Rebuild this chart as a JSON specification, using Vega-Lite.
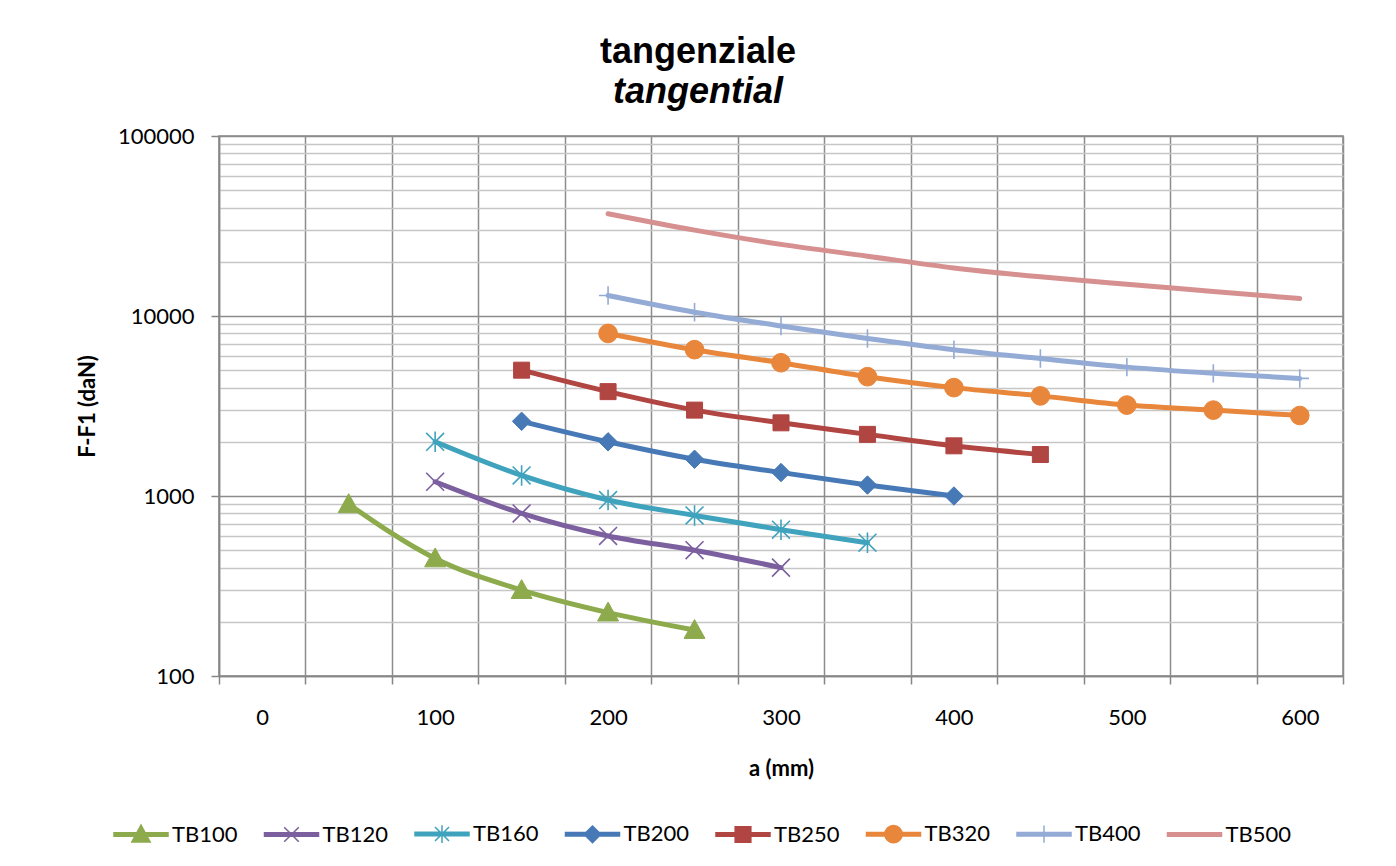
{
  "$schema": "https://vega.github.io/schema/vega-lite/v6.json",
  "width": 1124,
  "height": 540,
  "autosize": "none",
  "padding": {"left": 219, "top": 136, "right": 53, "bottom": 190},
  "background": "white",
  "title": {
    "text": "tangenziale",
    "subtitle": "tangential",
    "font": "Liberation Sans",
    "fontSize": 36,
    "fontWeight": "bold",
    "color": "#000000",
    "subtitleFont": "Liberation Sans",
    "subtitleFontSize": 36,
    "subtitleFontWeight": "bold",
    "subtitleFontStyle": "italic",
    "subtitleColor": "#000000",
    "subtitlePadding": 4,
    "anchor": "middle",
    "frame": "group",
    "dx": -83,
    "offset": 14
  },
  "data": {
    "values": [
      {"series": "TB100", "a": 50, "F": 900},
      {"series": "TB100", "a": 100, "F": 450},
      {"series": "TB100", "a": 150, "F": 300},
      {"series": "TB100", "a": 200, "F": 225},
      {"series": "TB100", "a": 250, "F": 180},
      {"series": "TB120", "a": 100, "F": 1200},
      {"series": "TB120", "a": 150, "F": 800},
      {"series": "TB120", "a": 200, "F": 600},
      {"series": "TB120", "a": 250, "F": 500},
      {"series": "TB120", "a": 300, "F": 400},
      {"series": "TB160", "a": 100, "F": 2000},
      {"series": "TB160", "a": 150, "F": 1300},
      {"series": "TB160", "a": 200, "F": 950},
      {"series": "TB160", "a": 250, "F": 780},
      {"series": "TB160", "a": 300, "F": 650},
      {"series": "TB160", "a": 350, "F": 550},
      {"series": "TB200", "a": 150, "F": 2600},
      {"series": "TB200", "a": 200, "F": 2000},
      {"series": "TB200", "a": 250, "F": 1600},
      {"series": "TB200", "a": 300, "F": 1350},
      {"series": "TB200", "a": 350, "F": 1150},
      {"series": "TB200", "a": 400, "F": 1000},
      {"series": "TB250", "a": 150, "F": 5000},
      {"series": "TB250", "a": 200, "F": 3800},
      {"series": "TB250", "a": 250, "F": 3000},
      {"series": "TB250", "a": 300, "F": 2550},
      {"series": "TB250", "a": 350, "F": 2200},
      {"series": "TB250", "a": 400, "F": 1900},
      {"series": "TB250", "a": 450, "F": 1700},
      {"series": "TB320", "a": 200, "F": 8000},
      {"series": "TB320", "a": 250, "F": 6500},
      {"series": "TB320", "a": 300, "F": 5500},
      {"series": "TB320", "a": 350, "F": 4600},
      {"series": "TB320", "a": 400, "F": 4000},
      {"series": "TB320", "a": 450, "F": 3600},
      {"series": "TB320", "a": 500, "F": 3200},
      {"series": "TB320", "a": 550, "F": 3000},
      {"series": "TB320", "a": 600, "F": 2800},
      {"series": "TB400", "a": 200, "F": 13000},
      {"series": "TB400", "a": 250, "F": 10500},
      {"series": "TB400", "a": 300, "F": 8800},
      {"series": "TB400", "a": 350, "F": 7500},
      {"series": "TB400", "a": 400, "F": 6500},
      {"series": "TB400", "a": 450, "F": 5800},
      {"series": "TB400", "a": 500, "F": 5200},
      {"series": "TB400", "a": 550, "F": 4800},
      {"series": "TB400", "a": 600, "F": 4500},
      {"series": "TB500", "a": 200, "F": 37000},
      {"series": "TB500", "a": 250, "F": 30000},
      {"series": "TB500", "a": 300, "F": 25000},
      {"series": "TB500", "a": 350, "F": 21500},
      {"series": "TB500", "a": 400, "F": 18500},
      {"series": "TB500", "a": 450, "F": 16500},
      {"series": "TB500", "a": 500, "F": 15000},
      {"series": "TB500", "a": 550, "F": 13700},
      {"series": "TB500", "a": 600, "F": 12500}
    ]
  },
  "layer": [
    {
      "mark": {"type": "point", "opacity": 0, "filled": true},
      "encoding": {
        "x": {
          "field": "a", "type": "quantitative",
          "scale": {"domain": [-25, 625], "nice": false, "zero": false},
          "axis": {
            "orient": "bottom",
            "values": [-25, 25, 75, 125, 175, 225, 275, 325, 375, 425, 475, 525, 575, 625],
            "labels": false, "ticks": true, "tickSize": 8, "tickColor": "#868686", "tickWidth": 1.5,
            "domain": true, "domainColor": "#868686", "domainWidth": 1.5,
            "grid": true, "gridColor": "#8c8c8c", "gridWidth": 1.5, "title": null
          }
        },
        "y": {
          "field": "F", "type": "quantitative",
          "scale": {"type": "log", "domain": [100, 100000], "nice": false},
          "axis": {
            "orient": "left",
            "values": [200, 300, 400, 500, 600, 700, 800, 900, 2000, 3000, 4000, 5000, 6000, 7000, 8000, 9000, 20000, 30000, 40000, 50000, 60000, 70000, 80000, 90000],
            "labels": false, "ticks": false, "domain": false,
            "grid": true, "gridColor": "#c6c6c6", "gridWidth": 1.5, "title": null
          }
        },
        "color": {
          "field": "series", "type": "nominal",
          "scale": {
            "domain": ["TB100", "TB120", "TB160", "TB200", "TB250", "TB320", "TB400", "TB500"],
            "range": ["#8DAB4C", "#7B5F9E", "#40A3BD", "#4779B6", "#B04542", "#E8863B", "#93ABD5", "#D79090"]
          },
          "legend": {
            "orient": "none", "legendX": -106, "legendY": 670,
            "direction": "horizontal", "columns": 8, "title": null,
            "symbolSize": 2916, "symbolStrokeWidth": 1.5, "symbolOpacity": 1,
            "labelFont": "Lato", "labelFontSize": 22, "labelColor": "#000000", "labelOffset": 3,
            "columnPadding": 23.5, "padding": 0
          }
        },
        "stroke": {
          "field": "series", "type": "nominal",
          "scale": {
            "domain": ["TB100", "TB120", "TB160", "TB200", "TB250", "TB320", "TB400", "TB500"],
            "range": ["#8DAB4C", "#7B5F9E", "#40A3BD", "#4779B6", "#B04542", "#E8863B", "#93ABD5", "#D79090"]
          },
          "legend": {
            "orient": "none", "legendX": -106, "legendY": 670,
            "direction": "horizontal", "columns": 8, "title": null,
            "symbolSize": 2916, "symbolStrokeWidth": 1.5, "symbolOpacity": 1,
            "labelFont": "Lato", "labelFontSize": 22, "labelColor": "#000000", "labelOffset": 3,
            "columnPadding": 23.5, "padding": 0
          }
        },
        "shape": {
          "field": "series", "type": "nominal",
          "scale": {
            "domain": ["TB100", "TB120", "TB160", "TB200", "TB250", "TB320", "TB400", "TB500"],
            "range": [
              "M-1,-0.065H1V0.065H-1Z M0,-0.35L0.34,0.28L-0.34,0.28Z",
              "M-1,-0.065H1V0.065H-1Z M-0.27,-0.27L0.27,0.27M-0.27,0.27L0.27,-0.27",
              "M-1,-0.065H1V0.065H-1Z M-0.26,-0.26L0.26,0.26M-0.26,0.26L0.26,-0.26M0,-0.33V0.33",
              "M-1,-0.065H1V0.065H-1Z M0,-0.31L0.31,0L0,0.31L-0.31,0Z",
              "M-1,-0.065H1V0.065H-1Z M-0.29,-0.29H0.29V0.29H-0.29Z",
              "M-1,-0.065H1V0.065H-1Z M0.32,0A0.32,0.32 0 1,1 -0.32,0A0.32,0.32 0 1,1 0.32,0Z",
              "M-1,-0.065H1V0.065H-1Z M0,-0.32V0.32",
              "M-1,-0.065H1V0.065H-1Z"
            ]
          },
          "legend": {
            "orient": "none", "legendX": -106, "legendY": 670,
            "direction": "horizontal", "columns": 8, "title": null,
            "symbolSize": 2916, "symbolStrokeWidth": 1.5, "symbolOpacity": 1,
            "labelFont": "Lato", "labelFontSize": 22, "labelColor": "#000000", "labelOffset": 3,
            "columnPadding": 23.5, "padding": 0
          }
        }
      }
    },
    {
      "mark": {"type": "point", "opacity": 0},
      "encoding": {
        "x": {
          "field": "a", "type": "quantitative",
          "scale": {"domain": [-25, 625], "nice": false, "zero": false},
          "axis": {
            "orient": "bottom",
            "values": [0, 100, 200, 300, 400, 500, 600], "format": "d",
            "labels": true, "ticks": false, "tickSize": 0, "domain": false, "grid": false,
            "labelFont": "Lato", "labelFontSize": 22, "labelColor": "#000000", "labelPadding": 31, "labelFlush": false, "labelOverlap": false,
            "title": "a (mm)", "titleFont": "Lato", "titleFontSize": 22, "titleFontWeight": "bold", "titleColor": "#000000", "titlePadding": 30
          }
        },
        "y": {
          "field": "F", "type": "quantitative",
          "scale": {"type": "log", "domain": [100, 100000], "nice": false},
          "axis": {
            "orient": "left",
            "values": [100, 1000, 10000, 100000], "format": "d",
            "labelFont": "Lato", "labelFontSize": 22, "labelColor": "#000000", "labelPadding": 17, "labelFlush": false, "labelOverlap": false,
            "tickSize": 8, "tickColor": "#868686", "tickWidth": 1.5,
            "domain": true, "domainColor": "#868686", "domainWidth": 1.5,
            "grid": true, "gridColor": "#8c8c8c", "gridWidth": 1.5,
            "title": "F-F1 (daN)", "titleFont": "Lato", "titleFontSize": 22, "titleFontWeight": "bold", "titleColor": "#000000", "titlePadding": 18
          }
        }
      }
    },
    {
      "transform": [{"filter": "datum.series === 'TB100'"}],
      "mark": {"type": "line", "interpolate": "monotone", "strokeWidth": 5, "strokeCap": "round", "strokeJoin": "round", "stroke": "#8DAB4C"},
      "encoding": {
        "x": {"field": "a", "type": "quantitative", "scale": {"domain": [-25, 625], "nice": false, "zero": false}, "axis": null},
        "y": {"field": "F", "type": "quantitative", "scale": {"type": "log", "domain": [100, 100000], "nice": false}, "axis": null}
      }
    },
    {
      "transform": [{"filter": "datum.series === 'TB100'"}],
      "mark": {"type": "point", "shape": "M0,-1L1,0.8L-1,0.8Z", "size": 440, "filled": true, "fill": "#8DAB4C", "stroke": "#8DAB4C", "strokeWidth": 1, "opacity": 1},
      "encoding": {
        "x": {"field": "a", "type": "quantitative", "scale": {"domain": [-25, 625], "nice": false, "zero": false}, "axis": null},
        "y": {"field": "F", "type": "quantitative", "scale": {"type": "log", "domain": [100, 100000], "nice": false}, "axis": null}
      }
    },
    {
      "transform": [{"filter": "datum.series === 'TB120'"}],
      "mark": {"type": "line", "interpolate": "monotone", "strokeWidth": 5, "strokeCap": "round", "strokeJoin": "round", "stroke": "#7B5F9E"},
      "encoding": {
        "x": {"field": "a", "type": "quantitative", "scale": {"domain": [-25, 625], "nice": false, "zero": false}, "axis": null},
        "y": {"field": "F", "type": "quantitative", "scale": {"type": "log", "domain": [100, 100000], "nice": false}, "axis": null}
      }
    },
    {
      "transform": [{"filter": "datum.series === 'TB120'"}],
      "mark": {"type": "point", "shape": "M-1,-1L1,1M-1,1L1,-1", "size": 320, "filled": true, "fill": "#7B5F9E", "stroke": "#7B5F9E", "strokeWidth": 1.6, "opacity": 1},
      "encoding": {
        "x": {"field": "a", "type": "quantitative", "scale": {"domain": [-25, 625], "nice": false, "zero": false}, "axis": null},
        "y": {"field": "F", "type": "quantitative", "scale": {"type": "log", "domain": [100, 100000], "nice": false}, "axis": null}
      }
    },
    {
      "transform": [{"filter": "datum.series === 'TB160'"}],
      "mark": {"type": "line", "interpolate": "monotone", "strokeWidth": 5, "strokeCap": "round", "strokeJoin": "round", "stroke": "#40A3BD"},
      "encoding": {
        "x": {"field": "a", "type": "quantitative", "scale": {"domain": [-25, 625], "nice": false, "zero": false}, "axis": null},
        "y": {"field": "F", "type": "quantitative", "scale": {"type": "log", "domain": [100, 100000], "nice": false}, "axis": null}
      }
    },
    {
      "transform": [{"filter": "datum.series === 'TB160'"}],
      "mark": {"type": "point", "shape": "M-1,-1L1,1M-1,1L1,-1M0,-1.15L0,1.15", "size": 320, "filled": true, "fill": "#40A3BD", "stroke": "#40A3BD", "strokeWidth": 1.6, "opacity": 1},
      "encoding": {
        "x": {"field": "a", "type": "quantitative", "scale": {"domain": [-25, 625], "nice": false, "zero": false}, "axis": null},
        "y": {"field": "F", "type": "quantitative", "scale": {"type": "log", "domain": [100, 100000], "nice": false}, "axis": null}
      }
    },
    {
      "transform": [{"filter": "datum.series === 'TB200'"}],
      "mark": {"type": "line", "interpolate": "monotone", "strokeWidth": 5, "strokeCap": "round", "strokeJoin": "round", "stroke": "#4779B6"},
      "encoding": {
        "x": {"field": "a", "type": "quantitative", "scale": {"domain": [-25, 625], "nice": false, "zero": false}, "axis": null},
        "y": {"field": "F", "type": "quantitative", "scale": {"type": "log", "domain": [100, 100000], "nice": false}, "axis": null}
      }
    },
    {
      "transform": [{"filter": "datum.series === 'TB200'"}],
      "mark": {"type": "point", "shape": "M0,-1L1,0L0,1L-1,0Z", "size": 340, "filled": true, "fill": "#4779B6", "stroke": "#4779B6", "strokeWidth": 1, "opacity": 1},
      "encoding": {
        "x": {"field": "a", "type": "quantitative", "scale": {"domain": [-25, 625], "nice": false, "zero": false}, "axis": null},
        "y": {"field": "F", "type": "quantitative", "scale": {"type": "log", "domain": [100, 100000], "nice": false}, "axis": null}
      }
    },
    {
      "transform": [{"filter": "datum.series === 'TB250'"}],
      "mark": {"type": "line", "interpolate": "monotone", "strokeWidth": 5, "strokeCap": "round", "strokeJoin": "round", "stroke": "#B04542"},
      "encoding": {
        "x": {"field": "a", "type": "quantitative", "scale": {"domain": [-25, 625], "nice": false, "zero": false}, "axis": null},
        "y": {"field": "F", "type": "quantitative", "scale": {"type": "log", "domain": [100, 100000], "nice": false}, "axis": null}
      }
    },
    {
      "transform": [{"filter": "datum.series === 'TB250'"}],
      "mark": {"type": "point", "shape": "M-1,-1H1V1H-1Z", "size": 256, "filled": true, "fill": "#B04542", "stroke": "#B04542", "strokeWidth": 1, "opacity": 1},
      "encoding": {
        "x": {"field": "a", "type": "quantitative", "scale": {"domain": [-25, 625], "nice": false, "zero": false}, "axis": null},
        "y": {"field": "F", "type": "quantitative", "scale": {"type": "log", "domain": [100, 100000], "nice": false}, "axis": null}
      }
    },
    {
      "transform": [{"filter": "datum.series === 'TB320'"}],
      "mark": {"type": "line", "interpolate": "monotone", "strokeWidth": 5, "strokeCap": "round", "strokeJoin": "round", "stroke": "#E8863B"},
      "encoding": {
        "x": {"field": "a", "type": "quantitative", "scale": {"domain": [-25, 625], "nice": false, "zero": false}, "axis": null},
        "y": {"field": "F", "type": "quantitative", "scale": {"type": "log", "domain": [100, 100000], "nice": false}, "axis": null}
      }
    },
    {
      "transform": [{"filter": "datum.series === 'TB320'"}],
      "mark": {"type": "point", "shape": "circle", "size": 350, "filled": true, "fill": "#E8863B", "stroke": "#E8863B", "strokeWidth": 1, "opacity": 1},
      "encoding": {
        "x": {"field": "a", "type": "quantitative", "scale": {"domain": [-25, 625], "nice": false, "zero": false}, "axis": null},
        "y": {"field": "F", "type": "quantitative", "scale": {"type": "log", "domain": [100, 100000], "nice": false}, "axis": null}
      }
    },
    {
      "transform": [{"filter": "datum.series === 'TB400'"}],
      "mark": {"type": "line", "interpolate": "monotone", "strokeWidth": 5, "strokeCap": "round", "strokeJoin": "round", "stroke": "#93ABD5"},
      "encoding": {
        "x": {"field": "a", "type": "quantitative", "scale": {"domain": [-25, 625], "nice": false, "zero": false}, "axis": null},
        "y": {"field": "F", "type": "quantitative", "scale": {"type": "log", "domain": [100, 100000], "nice": false}, "axis": null}
      }
    },
    {
      "transform": [{"filter": "datum.series === 'TB400'"}],
      "mark": {"type": "point", "shape": "M0,-1V1M-1,0H1", "size": 340, "filled": true, "fill": "#93ABD5", "stroke": "#93ABD5", "strokeWidth": 1.6, "opacity": 1},
      "encoding": {
        "x": {"field": "a", "type": "quantitative", "scale": {"domain": [-25, 625], "nice": false, "zero": false}, "axis": null},
        "y": {"field": "F", "type": "quantitative", "scale": {"type": "log", "domain": [100, 100000], "nice": false}, "axis": null}
      }
    },
    {
      "transform": [{"filter": "datum.series === 'TB500'"}],
      "mark": {"type": "line", "interpolate": "monotone", "strokeWidth": 5, "strokeCap": "round", "strokeJoin": "round", "stroke": "#D79090"},
      "encoding": {
        "x": {"field": "a", "type": "quantitative", "scale": {"domain": [-25, 625], "nice": false, "zero": false}, "axis": null},
        "y": {"field": "F", "type": "quantitative", "scale": {"type": "log", "domain": [100, 100000], "nice": false}, "axis": null}
      }
    }
  ],
  "resolve": {"axis": {"x": "independent", "y": "independent"}},
  "config": {
    "font": "Lato",
    "view": {"stroke": "#868686", "strokeWidth": 1.5}
  }
}
